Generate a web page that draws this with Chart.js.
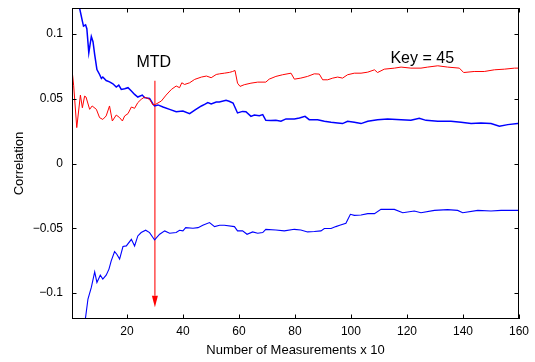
<!DOCTYPE html>
<html>
<head>
<meta charset="utf-8">
<script src="https://cdn.jsdelivr.net/npm/chart.js@4/dist/chart.umd.min.js"></script>
<style>
  html, body { margin: 0; padding: 0; background: #fff; }
  #c { display: block; }
</style>
</head>
<body>
<canvas id="c" width="535" height="362"></canvas>
<script>
// ---------- data ----------
const redX = [0.4, 1, 2.1, 3.4, 4.1, 4.9, 5.4, 6.7, 7.6, 9.1, 10.25, 11.4, 12.6, 13.8, 14.8, 16.2, 17.4, 18.4, 19.2, 20.4, 21.6, 22.75, 23.9, 25.1, 26.3, 28.1, 29.3, 30.2, 32.3, 34, 35.9, 37.6, 38.8, 39.6, 40.6, 42.4, 44.2, 46.6, 48.4, 50.1, 51.9, 53.1, 54.8, 56.6, 57.75, 58.6, 59.5, 60.4, 61.9, 64.3, 66.7, 69.6, 70.8, 73.2, 75.6, 78.6, 79.8, 82.1, 84.5, 86.9, 88.7, 89.9, 91.7, 93.5, 95.25, 97, 98.8, 101.2, 103.6, 106, 108.4, 109.5, 111.9, 115.5, 117.9, 121.4, 125, 127.4, 131, 134.5, 138.7, 140.25, 144, 147.6, 151.2, 154.8, 158.4, 160];
const redY = [0.0725, 0.060, 0.0277, 0.0528, 0.043, 0.052, 0.0513, 0.0418, 0.0444, 0.0418, 0.0354, 0.034, 0.0367, 0.0444, 0.0328, 0.0374, 0.0354, 0.0328, 0.0367, 0.0385, 0.0436, 0.0426, 0.047, 0.0495, 0.0513, 0.0495, 0.0452, 0.0456, 0.0482, 0.0528, 0.0572, 0.0598, 0.0585, 0.0623, 0.061, 0.0623, 0.0649, 0.0667, 0.0675, 0.0662, 0.0687, 0.0692, 0.0697, 0.0703, 0.071, 0.0718, 0.062, 0.0595, 0.0608, 0.062, 0.0628, 0.0628, 0.0651, 0.0672, 0.0685, 0.0697, 0.0651, 0.0659, 0.0672, 0.0692, 0.069, 0.0646, 0.0646, 0.0659, 0.0667, 0.0659, 0.0685, 0.0697, 0.0697, 0.0705, 0.0723, 0.0702, 0.0728, 0.0736, 0.0744, 0.0736, 0.0736, 0.0744, 0.0754, 0.0744, 0.0736, 0.0702, 0.071, 0.071, 0.0723, 0.0728, 0.0736, 0.0736];

const blueUpX = [1, 2, 3.1, 4.1, 4.5, 5.25, 5.7, 6.4, 7.3, 7.9, 8.5, 9.3, 10.25, 10.9, 11.4, 12.6, 13.8, 15, 16.2, 17.1, 18, 19.2, 20.4, 21.6, 22.75, 23.9, 25.5, 26.3, 28.1, 29.3, 29.9, 31.1, 32.9, 35.25, 37.6, 40, 42.4, 44.5, 46.6, 47.75, 48.9, 50.1, 51.9, 53, 55.4, 56.5, 57.9, 59.5, 61.3, 62.5, 64.3, 65.5, 67.3, 68.5, 69.6, 71.4, 73.2, 75, 76.8, 79.8, 81.6, 83.6, 85.1, 88.1, 90.5, 92.9, 95.25, 97, 98.8, 101.2, 103.6, 106, 109.5, 113.1, 117.9, 121.4, 124.4, 126.8, 131, 135.7, 139.3, 142.9, 146.4, 150, 153, 156, 159.5, 160];
const blueUpY = [0.138, 0.128, 0.12, 0.1098, 0.106, 0.107, 0.104, 0.0854, 0.098, 0.094, 0.084, 0.0725, 0.0687, 0.0656, 0.0667, 0.064, 0.063, 0.0615, 0.059, 0.0605, 0.0572, 0.0577, 0.0585, 0.056, 0.0533, 0.0513, 0.0528, 0.0508, 0.0502, 0.046, 0.0444, 0.0452, 0.0436, 0.0418, 0.040, 0.0405, 0.0385, 0.0415, 0.0444, 0.0456, 0.047, 0.046, 0.0475, 0.0475, 0.0487, 0.048, 0.0467, 0.039, 0.0402, 0.040, 0.0364, 0.0374, 0.0369, 0.0377, 0.0333, 0.0331, 0.0333, 0.0326, 0.0344, 0.0344, 0.0351, 0.0364, 0.0338, 0.0338, 0.0326, 0.0318, 0.0313, 0.0308, 0.0326, 0.0318, 0.0308, 0.0326, 0.0338, 0.0344, 0.0338, 0.0333, 0.0349, 0.0333, 0.0326, 0.0326, 0.0318, 0.0308, 0.0313, 0.0308, 0.0287, 0.030, 0.0308, 0.0308];

const blueLowX = [3, 4, 5.25, 6.1, 7.3, 8.5, 9.3, 10.5, 11.4, 12.6, 13.6, 14.4, 15.6, 16.4, 17.4, 18.6, 19.8, 21.6, 22.75, 23.9, 25.1, 26.7, 28.1, 29.9, 31.7, 33.5, 35.25, 37.6, 38.8, 40, 41, 43.6, 45.4, 47.1, 49.5, 51.3, 53.1, 54.8, 58.4, 59.5, 61.3, 62.9, 64.9, 66.7, 68.5, 69.6, 73.2, 76.2, 79.8, 82.1, 84.5, 86.9, 89.3, 90.5, 92.9, 94.6, 96, 98.2, 99.8, 101.2, 103.6, 106, 108.4, 110.7, 115.5, 118.5, 122.6, 125, 129.8, 134.5, 138.1, 139.9, 145.3, 150, 153.6, 160];
const blueLowY = [-0.145, -0.13, -0.1187, -0.1046, -0.0956, -0.0836, -0.0918, -0.0862, -0.0892, -0.0862, -0.0815, -0.0751, -0.068, -0.070, -0.0738, -0.0641, -0.0636, -0.0585, -0.0636, -0.0559, -0.0533, -0.0515, -0.0533, -0.059, -0.0546, -0.052, -0.0538, -0.0533, -0.0515, -0.052, -0.0495, -0.050, -0.0495, -0.0477, -0.0456, -0.0487, -0.0477, -0.0477, -0.0487, -0.052, -0.052, -0.0546, -0.0528, -0.0538, -0.0533, -0.0508, -0.0513, -0.052, -0.0508, -0.0513, -0.0528, -0.0525, -0.052, -0.0502, -0.0502, -0.0487, -0.0477, -0.0462, -0.0392, -0.040, -0.0397, -0.0387, -0.0387, -0.0354, -0.0354, -0.038, -0.0367, -0.038, -0.0362, -0.0356, -0.0362, -0.038, -0.0362, -0.0367, -0.0362, -0.0362];

// MTD arrow (x, start y, arrow base y, tip y)
const arrowX = [30, 30];
const arrowY = [0.0638, -0.102];
const arrowTipY = -0.111;

const xTicks = [20, 40, 60, 80, 100, 120, 140, 160];
const yTicks = [-0.1, -0.05, 0, 0.05, 0.1];
const yTickLabels = ['\u22120.1', '\u22120.05', '0', '0.05', '0.1'];

const notes = ['MTD', 'Key = 45'];
const noteX = [23.4, 114.1];
const noteY = [0.0741, 0.0775];

const xTitle = 'Number of Measurements x 10';
const yTitle = 'Correlation';

// ---------- chart ----------
const FONT = "'Liberation Sans', Arial, Helvetica, sans-serif";
Chart.defaults.font.family = FONT;
Chart.defaults.color = '#000';

const pts = (xs, ys) => xs.map((x, i) => ({ x: x, y: ys[i] }));

const framePlugin = {
  id: 'frame',
  afterDatasetsDraw(chart) {
    const { ctx, chartArea: a, scales } = chart;
    const xs = scales.x, ys = scales.y;
    ctx.save();
    // arrowhead
    const px = xs.getPixelForValue(arrowX[1]);
    const pb = ys.getPixelForValue(arrowY[1]);
    const pt = ys.getPixelForValue(arrowTipY);
    ctx.fillStyle = '#ff0000';
    ctx.beginPath();
    ctx.moveTo(px - 3, pb);
    ctx.lineTo(px + 3, pb);
    ctx.lineTo(px, pt);
    ctx.closePath();
    ctx.fill();
    // frame
    ctx.strokeStyle = '#000';
    ctx.lineWidth = 1;
    ctx.strokeRect(a.left + 0.5, a.top + 0.5, a.right - a.left - 1, a.bottom - a.top - 1);
    // inward ticks
    const tl = 4.5;
    ctx.beginPath();
    xTicks.forEach(v => {
      const p = Math.round(xs.getPixelForValue(v)) + 0.5;
      ctx.moveTo(p, a.bottom); ctx.lineTo(p, a.bottom - tl);
      ctx.moveTo(p, a.top); ctx.lineTo(p, a.top + tl);
    });
    yTicks.forEach(v => {
      const p = Math.round(ys.getPixelForValue(v)) + 0.5;
      ctx.moveTo(a.left, p); ctx.lineTo(a.left + tl, p);
      ctx.moveTo(a.right, p); ctx.lineTo(a.right - tl, p);
    });
    ctx.stroke();
    // notes
    ctx.fillStyle = '#000';
    ctx.font = '16px ' + FONT;
    ctx.textAlign = 'left';
    ctx.textBaseline = 'alphabetic';
    notes.forEach((t, i) => {
      ctx.fillText(t, xs.getPixelForValue(noteX[i]), ys.getPixelForValue(noteY[i]));
    });
    ctx.restore();
  }
};

new Chart(document.getElementById('c'), {
  type: 'line',
  data: {
    datasets: [
      { data: pts(redX, redY), borderColor: '#ff0000', borderWidth: 1 },
      { data: pts(blueUpX, blueUpY), borderColor: '#0000ff', borderWidth: 1.5 },
      { data: pts(blueLowX, blueLowY), borderColor: '#0000ff', borderWidth: 1.1 },
      { data: pts(arrowX, arrowY), borderColor: '#ff2020', borderWidth: 1.2 }
    ]
  },
  options: {
    responsive: false,
    animation: false,
    devicePixelRatio: 1,
    elements: { point: { radius: 0 }, line: { tension: 0 } },
    layout: { padding: { top: 8, right: 16, left: 0, bottom: 0 } },
    plugins: { legend: { display: false }, tooltip: { enabled: false } },
    scales: {
      x: {
        type: 'linear',
        min: 0.4, max: 160,
        grid: { display: false, drawTicks: false },
        border: { display: false },
        afterBuildTicks: s => { s.ticks = xTicks.map(v => ({ value: v })); },
        afterFit: s => { s.height = 43; s.paddingLeft = 0; s.paddingRight = 0; },
        ticks: { autoSkip: false, maxRotation: 0, padding: 5, font: { size: 12 },
          callback: v => String(v) },
        title: { display: true, text: xTitle, font: { size: 13 }, padding: { top: 0, bottom: 4 } }
      },
      y: {
        type: 'linear',
        min: -0.12, max: 0.12,
        grid: { display: false, drawTicks: false },
        border: { display: false },
        afterBuildTicks: s => { s.ticks = yTicks.map(v => ({ value: v })); },
        afterFit: s => { s.width = 72; s.paddingTop = 0; s.paddingBottom = 0; },
        ticks: { autoSkip: false, padding: 9, font: { size: 12 },
          callback: (v, i) => yTickLabels[i] },
        title: { display: true, text: yTitle, font: { size: 13 }, padding: { top: 12, bottom: 0 } }
      }
    }
  },
  plugins: [framePlugin]
});
</script>
</body>
</html>
